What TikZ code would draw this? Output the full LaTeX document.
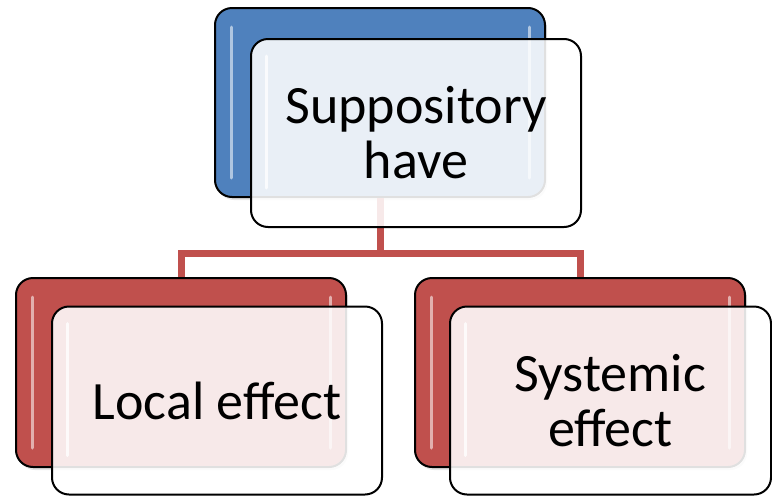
\documentclass[tikz,border=0pt]{standalone}
\usepackage{fontspec}
\setmainfont{Carlito}
\usetikzlibrary{shadows}
\definecolor{accblue}{HTML}{4F81BD}
\definecolor{accred}{HTML}{C0504D}
\tikzset{
  backbox/.style={draw=black, line width=2pt, rounded corners=17pt, inner sep=0pt,
    minimum width=330pt, minimum height=189pt, fill=#1,
    drop shadow={opacity=0.2, shadow xshift=2pt, shadow yshift=-3pt}},
  frontbox/.style={draw=black, line width=2pt, rounded corners=17pt, inner sep=0pt,
    minimum width=330pt, minimum height=188pt, fill=white, fill opacity=0.88,
    text opacity=1, align=center, font=\fontsize{54}{55}\selectfont},
  gloss/.style={draw=white, line width=3pt, line cap=round, opacity=0.55},
  link/.style={draw=accred, line width=7pt}
}
\begin{document}
\begin{tikzpicture}[x=1pt,y=-1pt]
\useasboundingbox (0,0) rectangle (772,496);
\node[backbox=accblue] (topback) at (380,102.5) {};% Top back card
\node[backbox=accred] (localback) at (181,372.5) {};% Left back card
\node[backbox=accred] (sysback) at (580,372.5) {};% Right back card
\foreach \b in {topback, localback, sysback}{
  \draw[gloss] ([xshift=17pt,yshift=-20pt]\b.north west) -- ([xshift=17pt,yshift=20pt]\b.south west);
  \draw[gloss] ([xshift=-17pt,yshift=-20pt]\b.north east) -- ([xshift=-17pt,yshift=20pt]\b.south east);
}
\coordinate (fork) at (380,253);
\draw[link] (topback.south) -- (fork) -| (localback.north);
\draw[link] (fork) -| (sysback.north);
\node[frontbox] (top) at (416,133) {Suppository\\have};% Top front card
\node[frontbox] (local) at (217,400.5) {Local effect};% Left front card
\node[frontbox, minimum width=321pt] (sys) at (610.5,400.5) {Systemic\\effect};% Right front card
\foreach \f in {top, local, sys}{
  \draw[gloss, opacity=0.8] ([xshift=16pt,yshift=-18pt]\f.north west) -- ([xshift=16pt,yshift=40pt]\f.south west);
}
\end{tikzpicture}
\end{document}
